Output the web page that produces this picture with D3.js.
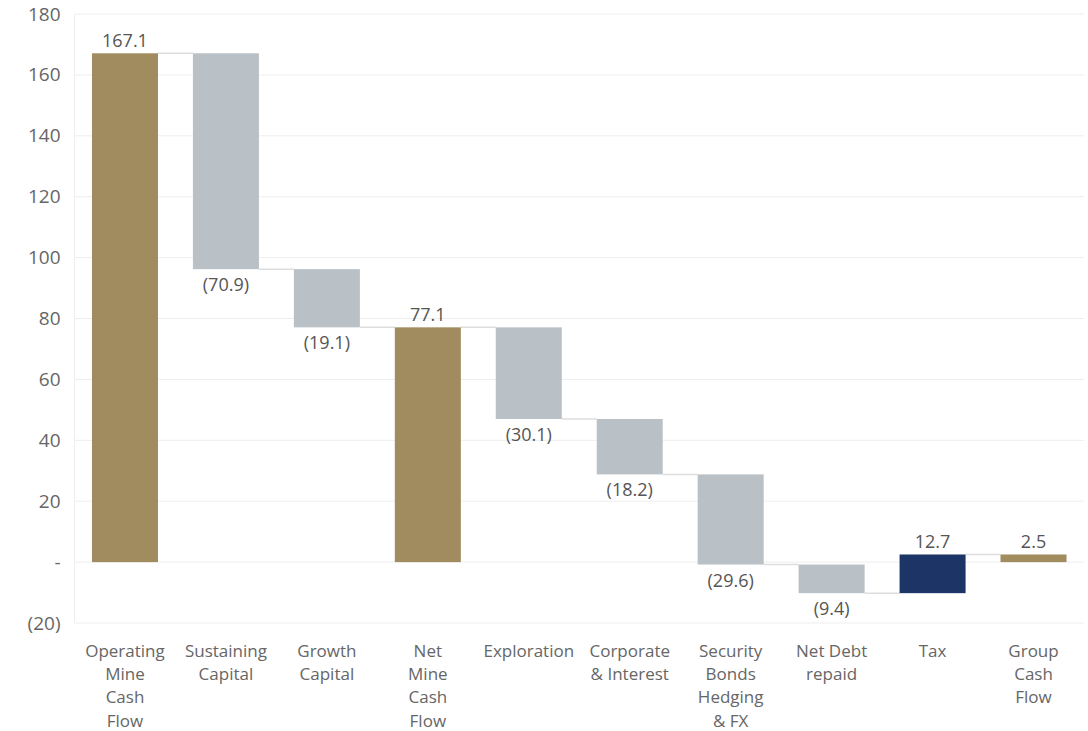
<!DOCTYPE html>
<html>
<head>
<meta charset="utf-8">
<script src="https://cdn.jsdelivr.net/npm/d3@7"></script>
<style>
  body { margin: 0; background: #fff; }
  text { font-family: "Open Sans", sans-serif; }
</style>
</head>
<body>
<script>
var width = 1088, height = 731;

// data
var categories = [
  ["Operating", "Mine", "Cash", "Flow"],
  ["Sustaining", "Capital"],
  ["Growth", "Capital"],
  ["Net", "Mine", "Cash", "Flow"],
  ["Exploration"],
  ["Corporate", "& Interest"],
  ["Security", "Bonds", "Hedging", "& FX"],
  ["Net Debt", "repaid"],
  ["Tax"],
  ["Group", "Cash", "Flow"]
];
var values = [167.1, -70.9, -19.1, 77.1, -30.1, -18.2, -29.6, -9.4, 12.7, 2.5];
var kinds = ["total", "delta", "delta", "total", "delta", "delta", "delta", "delta", "tax", "total"];
var yTicks = [-20, 0, 20, 40, 60, 80, 100, 120, 140, 160, 180];

var colors = { total: "#a08c5e", delta: "#b9c1c7", tax: "#1c3566" };

// build waterfall start/end
var run = 0;
var bars = values.map(function (v, i) {
  var s, e;
  if (kinds[i] == "total") { s = 0; e = v; run = v; }
  else { s = run; e = run + v; run = e; }
  return { i: i, v: v, kind: kinds[i], start: s, end: e, lines: categories[i] };
});

var margin = { top: 14, left: 74.5, right: 4, bottom: 108 };

var x = d3.scaleBand()
  .domain(d3.range(categories.length))
  .range([margin.left, width - margin.right])
  .paddingInner(0.346)
  .paddingOuter(0.173);

var y = d3.scaleLinear()
  .domain([-20, 180])
  .range([height - margin.bottom, margin.top]);

var svg = d3.select("body").append("svg")
  .attr("width", width)
  .attr("height", height);

// grid
svg.append("g").selectAll("line")
  .data(yTicks)
  .enter().append("line")
  .attr("x1", margin.left)
  .attr("x2", width - margin.right)
  .attr("y1", function (d) { return y(d); })
  .attr("y2", function (d) { return y(d); })
  .style("stroke", "#eeeeee")
  .style("stroke-width", 1);

svg.append("line")
  .attr("x1", margin.left).attr("x2", margin.left)
  .attr("y1", y(180)).attr("y2", y(-20))
  .style("stroke", "#eeeeee");

// y axis labels
var yAxis = d3.axisLeft(y)
  .tickValues(yTicks)
  .tickSize(0)
  .tickPadding(14)
  .tickFormat(function (d) {
    if (d == 0) return "-";
    if (d < 0) return "(" + Math.abs(d) + ")";
    return d;
  });

var ya = svg.append("g")
  .attr("transform", "translate(" + margin.left + ",0)")
  .call(yAxis);
ya.select(".domain").remove();
ya.selectAll("text")
  .style("font-size", "19px")
  .style("fill", "#666")
  .style("font-family", "'Open Sans', sans-serif");

// connectors
svg.append("g").selectAll("line")
  .data(bars.slice(0, bars.length - 1))
  .enter().append("line")
  .attr("x1", function (d) { return x(d.i) + x.bandwidth(); })
  .attr("x2", function (d) { return x(d.i + 1); })
  .attr("y1", function (d) { return y(d.end); })
  .attr("y2", function (d) { return y(d.end); })
  .style("stroke", "#dddddd")
  .style("stroke-width", 1.5);

// bars
svg.append("g").selectAll("rect")
  .data(bars)
  .enter().append("rect")
  .attr("x", function (d) { return x(d.i); })
  .attr("width", x.bandwidth())
  .attr("y", function (d) { return y(Math.max(d.start, d.end)); })
  .attr("height", function (d) { return Math.abs(y(d.start) - y(d.end)); })
  .style("fill", function (d) { return colors[d.kind]; });

// value labels
svg.append("g").selectAll("text")
  .data(bars)
  .enter().append("text")
  .attr("x", function (d) { return x(d.i) + x.bandwidth() / 2; })
  .attr("y", function (d) {
    if (d.v >= 0) return y(Math.max(d.start, d.end)) - 6;
    return y(Math.min(d.start, d.end)) + 22;
  })
  .attr("text-anchor", "middle")
  .style("font-size", "18px")
  .style("fill", "#555")
  .text(function (d) {
    if (d.v < 0) return "(" + Math.abs(d.v).toFixed(1) + ")";
    return d.v.toFixed(1);
  });

// category labels
var cat = svg.append("g").selectAll("text")
  .data(bars)
  .enter().append("text")
  .attr("text-anchor", "middle")
  .style("font-size", "17px")
  .style("fill", "#666")
  .attr("transform", function (d) {
    return "translate(" + (x(d.i) + x.bandwidth() / 2) + "," + (y(-20) + 34) + ")";
  });

cat.selectAll("tspan")
  .data(function (d) { return d.lines; })
  .enter().append("tspan")
  .attr("x", 0)
  .attr("y", function (d, i) { return i * 23.2; })
  .text(function (d) { return d; });
</script>
</body>
</html>
